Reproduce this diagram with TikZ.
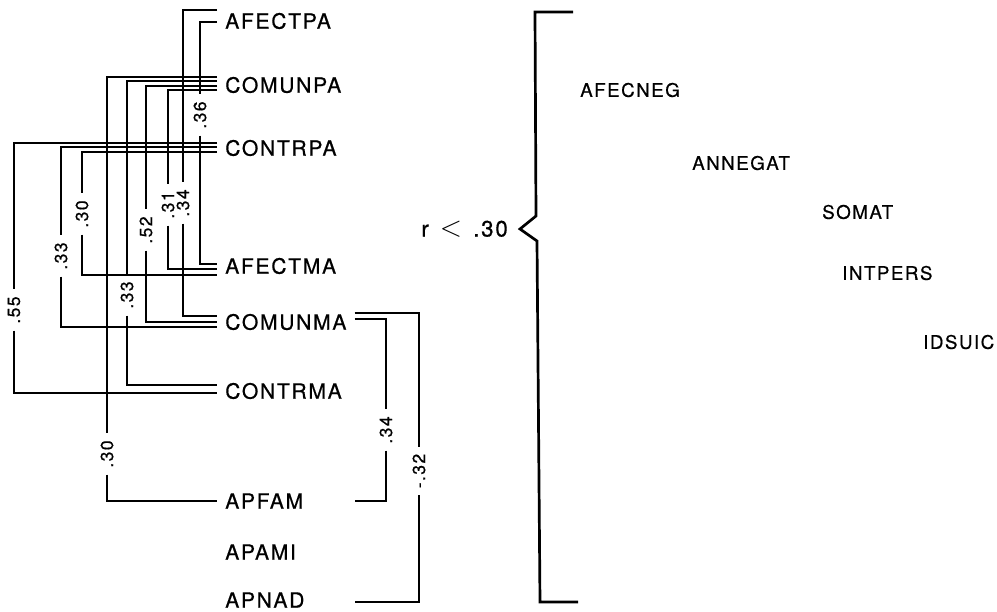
\documentclass[tikz,border=0pt]{standalone}
\usepackage{fontspec}
\setmainfont{TeX Gyre Heros}[LetterSpace=8, FakeBold=0.6]
\usetikzlibrary{positioning}
\tikzset{
  var/.style={anchor=west, inner xsep=0.24cm, inner ysep=0pt, font=\fontsize{18}{20}\selectfont},
  outvar/.style={anchor=west, inner sep=0pt, font=\fontsize{16}{18}\selectfont},
  coef/.style={rotate=90, inner xsep=0.2cm, inner ysep=0pt, font=\fontsize{15}{17}\selectfont},
  link/.style={line width=1.5pt},
}
\begin{document}
\begin{tikzpicture}[x=0.03cm, y=-0.03cm]
    \useasboundingbox (0,0) rectangle (997,612);

    % 左侧变量
    \node[var] (afectpa) at (217,21) {AFECTPA};
    \node[var] (comunpa) at (217,85) {COMUNPA};
    \node[var] (contrpa) at (217,148) {CONTRPA};
    \node[var] (afectma) at (217,266) {AFECTMA};
    \node[var] (comunma) at (217,322) {COMUNMA};
    \node[var] (contrma) at (217,391) {CONTRMA};
    \node[var] (apfam) at (217,501) {APFAM};
    \node[var] (apami) at (217,552) {APAMI};
    \node[var] (apnad) at (217,600) {APNAD};

    % 相关系数
    \node[coef] (k36) at (200,115) {.36};
    \node[coef] (k34a) at (183,203) {.34};
    \node[coef] (k31) at (168,205) {.31};
    \node[coef] (k52) at (146,230) {.52};
    \node[coef] (k33b) at (127,295) {.33};
    \node[coef] (k30b) at (107,454) {.30};
    \node[coef] (k30a) at (82,214) {.30};
    \node[coef] (k33a) at (61,256) {.33};
    \node[coef] (k55) at (14,310) {.55};
    \node[coef] (k34b) at (386,430) {.34};
    \node[coef] (k32) at (419,471) {-.32};

    % AFECTPA
    \draw[link] (afectpa.west |- 0,22) -| (k36.east);
    \draw[link] (k36.west) |- (afectma.west |- 0,264);
    \draw[link] (afectpa.west |- 0,10) -| (k34a.east);
    \draw[link] (k34a.west) |- (comunma.west |- 0,316);

    % COMUNPA
    \draw[link] (comunpa.west |- 0,77) -| (k30b.east);
    \draw[link] (k30b.west) |- (apfam.west);
    \draw[link] (comunpa.west |- 0,81) -| (k33b.east);
    \draw[link] (k33b.west) |- (contrma.west |- 0,385);
    \draw[link] (comunpa.west |- 0,86) -| (k52.east);
    \draw[link] (k52.west) |- (comunma.west |- 0,322);
    \draw[link] (comunpa.west |- 0,90) -| (k31.east);
    \draw[link] (k31.west) |- (afectma.west |- 0,269);

    % CONTRPA
    \draw[link] (contrpa.west |- 0,143) -| (k55.east);
    \draw[link] (k55.west) |- (contrma.west |- 0,393);
    \draw[link] (contrpa.west |- 0,147) -| (k33a.east);
    \draw[link] (k33a.west) |- (comunma.west |- 0,327);
    \draw[link] (contrpa.west |- 0,152) -| (k30a.east);
    \draw[link] (k30a.west) |- (afectma.west |- 0,275);

    % COMUNMA 右侧
    \draw[link] (comunma.east |- 0,319) -| (k34b.east);
    \draw[link] (k34b.west) |- (comunma.east |- 0,501);
    \draw[link] (comunma.east |- 0,313) -| (k32.east);
    \draw[link] (k32.west) |- (comunma.east |- 0,602);

    % 括号
    \coordinate (tip) at (520,229);
    \draw[line width=2.3pt] (573,12) -- (535,12) -- (536,216) -- (tip)
        -- (537,241) -- (540,602) -- (578,602);
    \node[left=0.36cm of tip, inner sep=0pt, font=\fontsize{19}{21}\selectfont] (rlim)
        {r\enspace{\fontsize{24}{24}\selectfont$<$}\enspace.30};

    % 右侧变量
    \node[outvar] (afecneg) at (580,90) {AFECNEG};
    \node[outvar] (annegat) at (692,163) {ANNEGAT};
    \node[outvar] (somat) at (822,212) {SOMAT};
    \node[outvar] (intpers) at (842,273) {INTPERS};
    \node[outvar] (idsuic) at (923,342) {IDSUIC};
\end{tikzpicture}
\end{document}
